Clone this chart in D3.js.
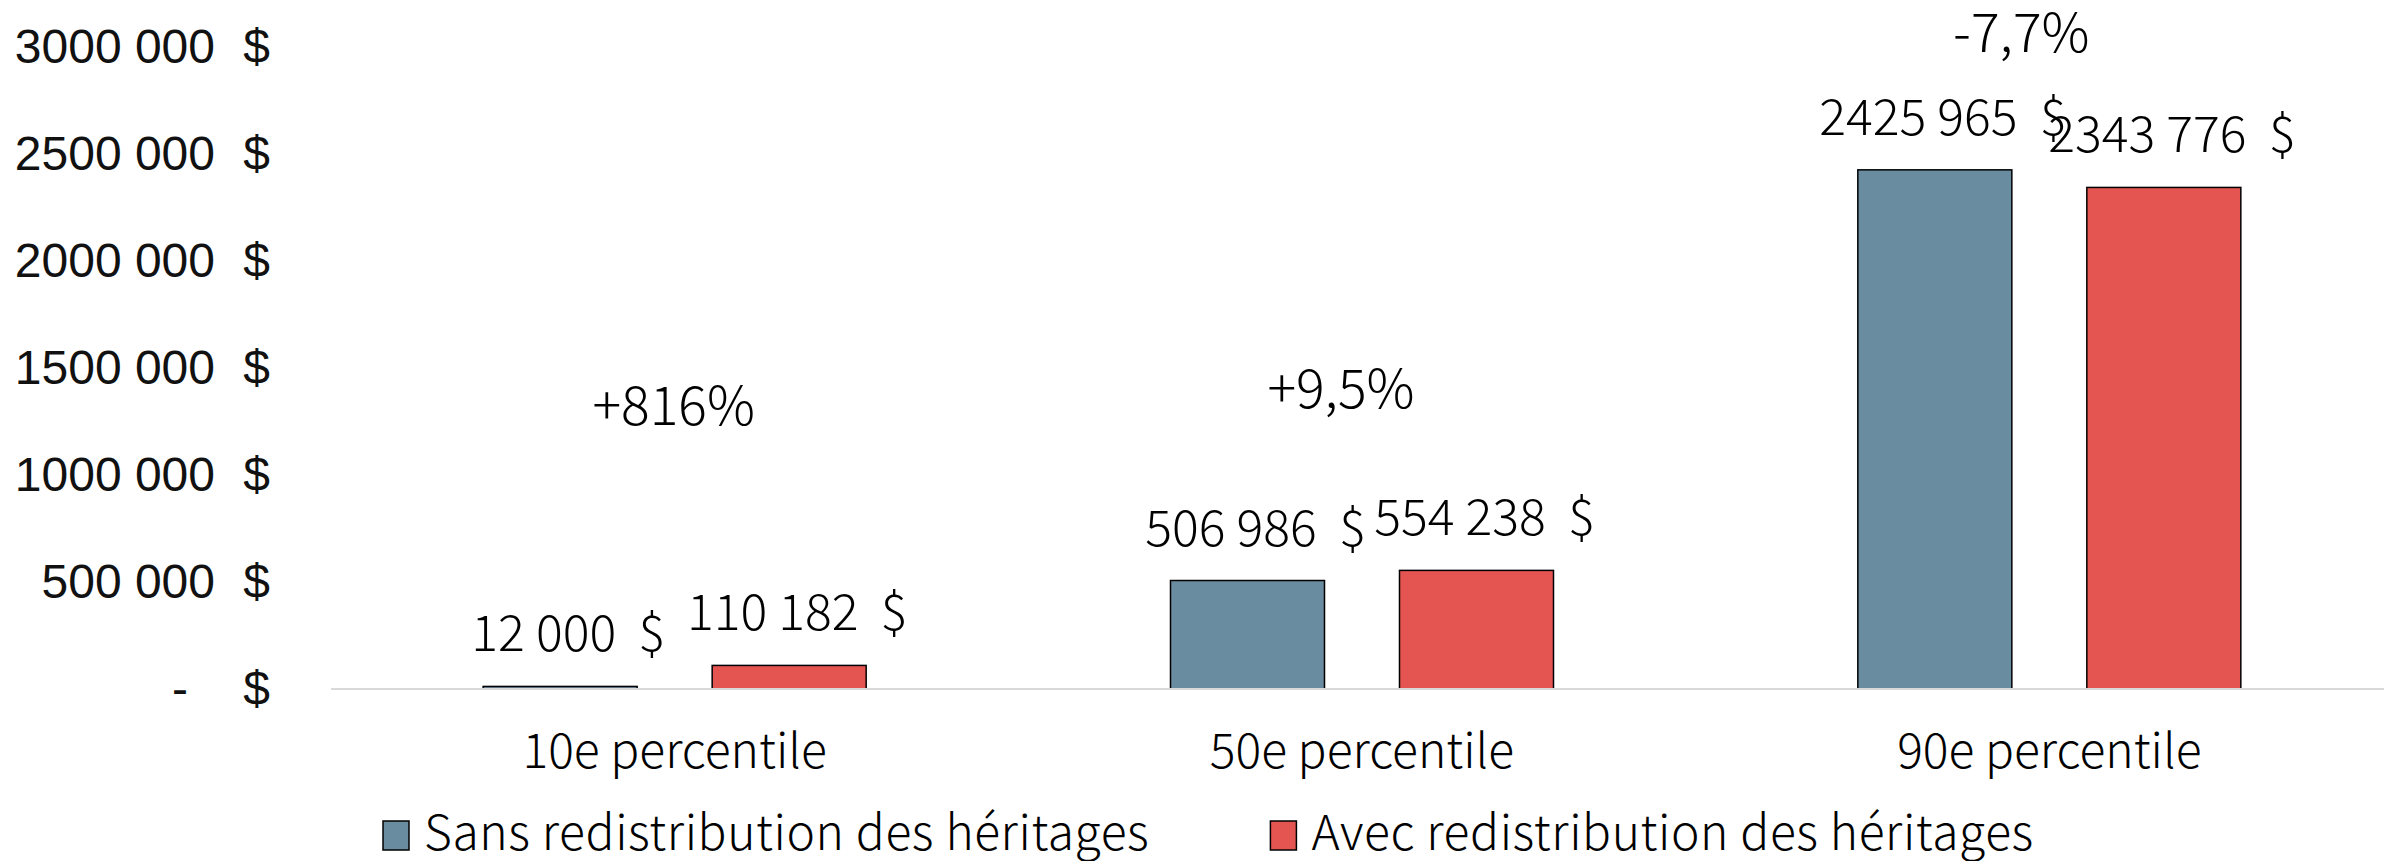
<!DOCTYPE html>
<html>
<head>
<meta charset="utf-8">
<script src="https://cdn.jsdelivr.net/npm/d3@7"></script>
<style>
  html, body { margin: 0; padding: 0; background: #ffffff; }
  svg { display: block; }
  text { white-space: pre; }
</style>
</head>
<body>
<svg id="chart" width="2384" height="861"></svg>
<script>
// Percentiles of wealth, with and without redistribution of inheritances
const categories = ["10e percentile", "50e percentile", "90e percentile"];
const seriesNames = ["Sans redistribution des héritages", "Avec redistribution des héritages"];
const sansValues = [12000, 506986, 2425965];
const avecValues = [110182, 554238, 2343776];
const changeLabels = ["+816%", "+9,5%", "-7,7%"];
const tickValues = [0, 500000, 1000000, 1500000, 2000000, 2500000, 3000000];
const tickLabels = ["-", "500 000", "1000 000", "1500 000", "2000 000", "2500 000", "3000 000"];

const colors = ["#6a8ca0", "#e45552"];
const condensedFont = "'Noto Sans CJK JP', 'Noto Sans', sans-serif";
const axisFont = "'Liberation Sans', Arial, sans-serif";

// value labels such as "2425 965  $"
function moneyLabel(v) {
  const s = String(v);
  return s.slice(0, s.length - 3) + " " + s.slice(-3) + "  $";
}

const svg = d3.select("#chart");

const x0 = d3.scaleBand().domain(categories).range([331, 2393]).paddingInner(0).paddingOuter(0);
const x1 = d3.scaleBand().domain([0, 1]).range([x0.bandwidth() / 2 - 191.5, x0.bandwidth() / 2 + 191.5]).paddingInner(0.3275);
const y = d3.scaleLinear().domain([0, 3000000]).range([689, 47]);

// y axis labels: number and currency sign in separate columns
const yAxis = svg.append("g").attr("font-family", axisFont).attr("font-size", 48).attr("fill", "#111");
tickValues.forEach((t, i) => {
  yAxis.append("text")
    .attr("x", t === 0 ? 188 : 215)
    .attr("y", y(t))
    .attr("dy", "0.34em")
    .attr("text-anchor", "end")
    .text(tickLabels[i]);
  yAxis.append("text")
    .attr("x", 270)
    .attr("y", y(t))
    .attr("dy", "0.34em")
    .attr("text-anchor", "end")
    .text("$");
});

// bars
const rows = categories.map((c, i) => ({ cat: c, vals: [sansValues[i], avecValues[i]] }));
const groups = svg.append("g").selectAll("g").data(rows).join("g")
  .attr("transform", d => `translate(${x0(d.cat)},0)`);

groups.selectAll("rect").data(d => d.vals.map((v, k) => ({ v, k }))).join("rect")
  .attr("x", d => x1(d.k))
  .attr("width", x1.bandwidth())
  .attr("y", d => y(d.v))
  .attr("height", d => y(0) - y(d.v))
  .attr("fill", d => colors[d.k])
  .attr("stroke", "#000")
  .attr("stroke-width", 1.5);

// baseline
svg.append("line")
  .attr("x1", x0.range()[0]).attr("x2", x0.range()[1])
  .attr("y1", y(0)).attr("y2", y(0))
  .attr("stroke", "#d9d9d9").attr("stroke-width", 2);

// value labels above bars
groups.selectAll("text.val").data(d => d.vals.map((v, k) => ({ v, k }))).join("text")
  .attr("class", "val")
  .attr("x", d => x1(d.k) + x1.bandwidth() / 2 + 8)
  .attr("y", d => y(d.v) - 35)
  .attr("text-anchor", "middle")
  .attr("font-family", condensedFont)
  .attr("font-weight", 300)
  .attr("font-size", 50)
  .attr("fill", "#000")
  .text(d => moneyLabel(d.v));

// percentage change notes
const noteOffsets = [[-1, 1234000], [-21, 1313000], [-28, 2975000]];
svg.append("g").selectAll("text").data(changeLabels).join("text")
  .attr("x", (d, i) => x0(categories[i]) + x0.bandwidth() / 2 + noteOffsets[i][0])
  .attr("y", (d, i) => y(noteOffsets[i][1]))
  .attr("text-anchor", "middle")
  .attr("font-family", condensedFont)
  .attr("font-weight", 300)
  .attr("font-size", 53.5)
  .attr("fill", "#000")
  .text(d => d);

// category labels
svg.append("g").selectAll("text").data(categories).join("text")
  .attr("x", d => x0(d) + x0.bandwidth() / 2)
  .attr("y", 768)
  .attr("text-anchor", "middle")
  .attr("font-family", condensedFont)
  .attr("font-weight", 300)
  .attr("font-size", 48)
  .attr("fill", "#000")
  .text(d => d);

// legend
const legend = svg.append("g").attr("font-family", condensedFont).attr("font-weight", 300)
  .attr("font-size", 48).attr("letter-spacing", 0.6);
let lx = 383;
seriesNames.forEach((name, k) => {
  legend.append("rect")
    .attr("x", lx).attr("y", 821).attr("width", 26).attr("height", 29)
    .attr("fill", colors[k]).attr("stroke", "#000").attr("stroke-width", 1.5);
  const t = legend.append("text")
    .attr("x", lx + 41).attr("y", 850)
    .attr("fill", "#000")
    .text(name);
  lx = lx + 41 + t.node().getComputedTextLength() + 121;
});
</script>
</body>
</html>
